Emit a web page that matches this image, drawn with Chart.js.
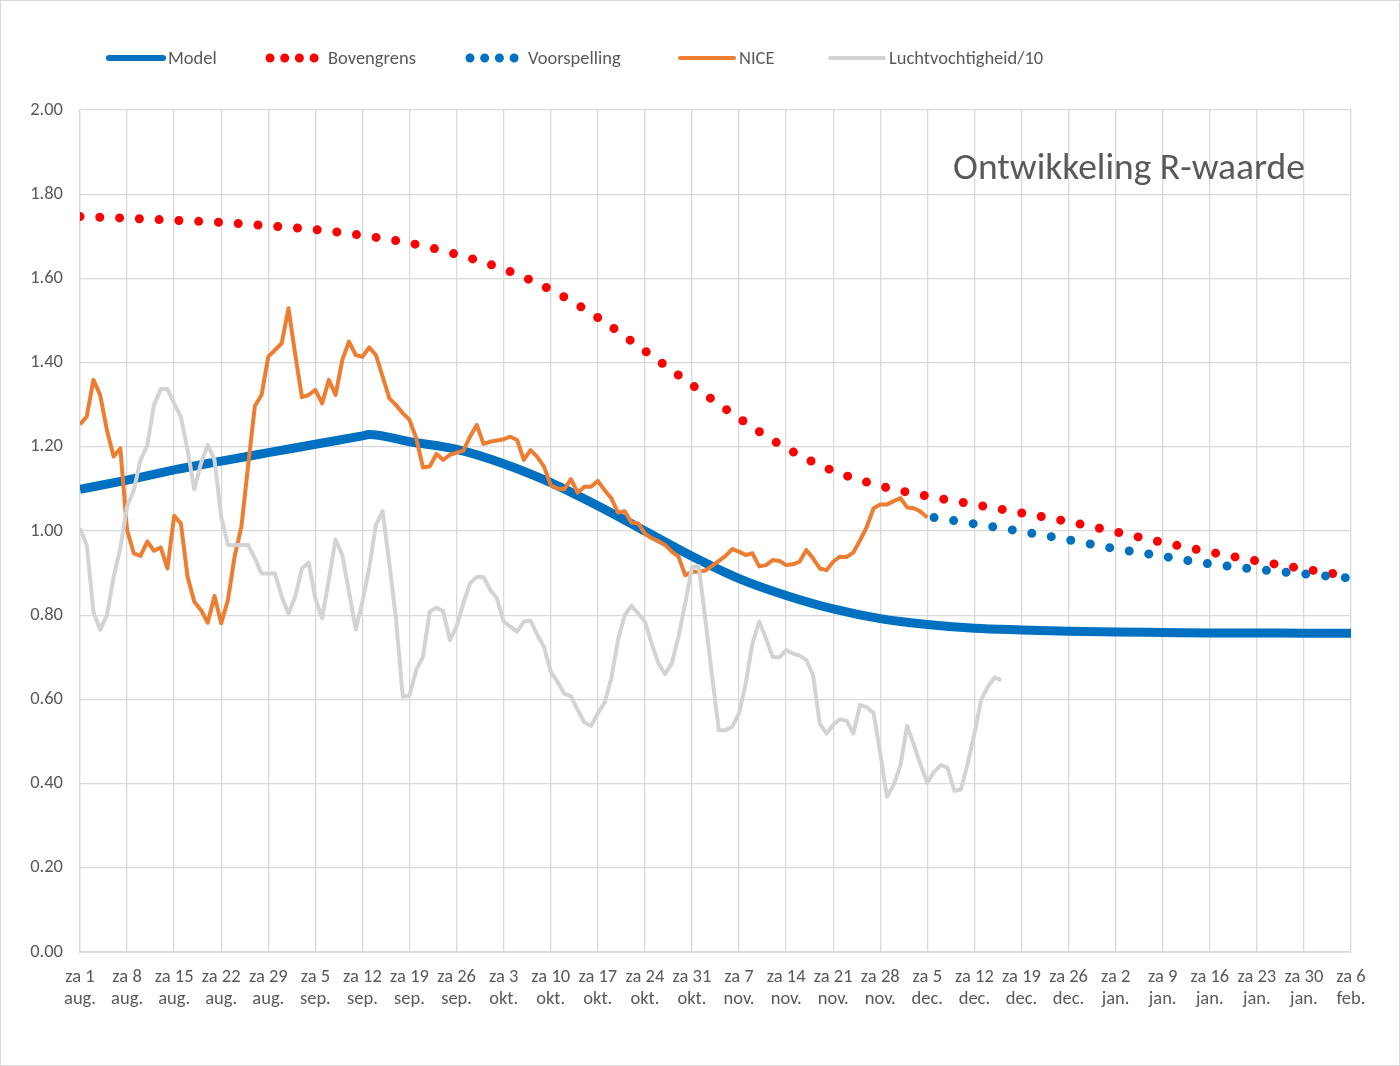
<!DOCTYPE html>
<html lang="nl">
<head>
<meta charset="utf-8">
<title>Ontwikkeling R-waarde</title>
<script src="https://cdn.jsdelivr.net/npm/chart.js@4.4.1/dist/chart.umd.min.js"></script>
<style>
    html, body { margin: 0; padding: 0; background: #fff; }
    #chart { display: block; }
</style>
</head>
<body>
<canvas id="chart" width="1400" height="1066"></canvas>
<script>
// Tick labels, one per week (za = zaterdag), day 0 = za 1 aug.
const tickLabels = [
    ['za 1', 'aug.'], ['za 8', 'aug.'], ['za 15', 'aug.'], ['za 22', 'aug.'], ['za 29', 'aug.'],
    ['za 5', 'sep.'], ['za 12', 'sep.'], ['za 19', 'sep.'], ['za 26', 'sep.'],
    ['za 3', 'okt.'], ['za 10', 'okt.'], ['za 17', 'okt.'], ['za 24', 'okt.'], ['za 31', 'okt.'],
    ['za 7', 'nov.'], ['za 14', 'nov.'], ['za 21', 'nov.'], ['za 28', 'nov.'],
    ['za 5', 'dec.'], ['za 12', 'dec.'], ['za 19', 'dec.'], ['za 26', 'dec.'],
    ['za 2', 'jan.'], ['za 9', 'jan.'], ['za 16', 'jan.'], ['za 23', 'jan.'], ['za 30', 'jan.'],
    ['za 6', 'feb.']
];

const seriesNames = ['Model', 'Bovengrens', 'Voorspelling', 'NICE', 'Luchtvochtigheid/10'];

// Model (smooth curve, read at these days)
const modelDays = [0, 7, 14, 21, 28, 35, 42, 43, 49, 56, 63, 70, 77, 84, 91, 98, 105, 112, 119, 126, 133, 140, 147, 154, 161, 168, 175, 182, 189];
const modelValues = [1.099, 1.121, 1.145, 1.166, 1.186, 1.206, 1.226, 1.229, 1.212, 1.194, 1.160, 1.115, 1.060, 1.000, 0.940, 0.887, 0.847, 0.815, 0.792, 0.778, 0.769, 0.765, 0.762, 0.760, 0.759, 0.758, 0.758, 0.757, 0.757];

// Bovengrens (upper bound)
const upperDays = [0, 7, 14, 21, 28, 35, 42, 49, 56, 63, 70, 77, 84, 91, 98, 105, 112, 119, 126, 133, 140, 147, 154, 161, 168, 175, 182, 189];
const upperValues = [1.747, 1.743, 1.738, 1.733, 1.725, 1.716, 1.702, 1.684, 1.657, 1.622, 1.573, 1.507, 1.428, 1.347, 1.268, 1.197, 1.143, 1.107, 1.083, 1.063, 1.043, 1.022, 0.998, 0.973, 0.950, 0.929, 0.910, 0.892];

// Voorspelling (forecast)
const forecastDays = [127, 133, 140, 147, 154, 161, 168, 175, 182, 189];
const forecastValues = [1.032, 1.017, 0.999, 0.979, 0.958, 0.940, 0.922, 0.909, 0.898, 0.888];

// NICE, daily from za 1 aug.
const niceValues = [
    1.253, 1.272, 1.359, 1.323, 1.240, 1.177, 1.196, 1.002, 0.947, 0.941,
    0.975, 0.953, 0.961, 0.911, 1.036, 1.018, 0.891, 0.832, 0.812, 0.782,
    0.846, 0.781, 0.836, 0.940, 1.010, 1.155, 1.297, 1.323, 1.414, 1.430,
    1.446, 1.529, 1.420, 1.318, 1.323, 1.335, 1.303, 1.359, 1.323, 1.406,
    1.450, 1.418, 1.414, 1.436, 1.418, 1.367, 1.315, 1.299, 1.280, 1.264,
    1.220, 1.151, 1.153, 1.183, 1.169, 1.181, 1.186, 1.191, 1.224, 1.252,
    1.207, 1.212, 1.215, 1.218, 1.224, 1.216, 1.169, 1.192, 1.176, 1.153,
    1.109, 1.101, 1.099, 1.123, 1.091, 1.105, 1.105, 1.119, 1.097, 1.078,
    1.044, 1.047, 1.020, 1.018, 0.994, 0.983, 0.976, 0.967, 0.951, 0.939,
    0.895, 0.903, 0.903, 0.906, 0.917, 0.929, 0.941, 0.957, 0.951, 0.943,
    0.947, 0.916, 0.919, 0.931, 0.929, 0.919, 0.921, 0.927, 0.955, 0.935,
    0.911, 0.907, 0.927, 0.939, 0.938, 0.949, 0.978, 1.010, 1.054, 1.063,
    1.063, 1.071, 1.078, 1.056, 1.054, 1.046, 1.032
];

// Luchtvochtigheid / 10, daily from za 1 aug.
const humidityValues = [
    1.006, 0.967, 0.808, 0.765, 0.800, 0.891, 0.959, 1.058, 1.097, 1.169,
    1.204, 1.299, 1.337, 1.337, 1.303, 1.271, 1.192, 1.099, 1.161, 1.204,
    1.169, 1.034, 0.967, 0.967, 0.967, 0.967, 0.935, 0.899, 0.899, 0.899,
    0.844, 0.804, 0.844, 0.911, 0.925, 0.840, 0.793, 0.884, 0.980, 0.943,
    0.856, 0.766, 0.832, 0.911, 1.014, 1.047, 0.923, 0.789, 0.606, 0.610,
    0.670, 0.701, 0.808, 0.818, 0.810, 0.741, 0.773, 0.828, 0.876, 0.891,
    0.891, 0.860, 0.840, 0.785, 0.773, 0.761, 0.785, 0.787, 0.753, 0.725,
    0.666, 0.642, 0.614, 0.608, 0.575, 0.545, 0.537, 0.567, 0.592, 0.650,
    0.741, 0.800, 0.822, 0.804, 0.785, 0.733, 0.686, 0.660, 0.686, 0.749,
    0.828, 0.914, 0.917, 0.789, 0.654, 0.527, 0.527, 0.535, 0.567, 0.638,
    0.733, 0.785, 0.745, 0.701, 0.700, 0.717, 0.709, 0.704, 0.694, 0.658,
    0.543, 0.519, 0.539, 0.553, 0.549, 0.519, 0.587, 0.581, 0.568, 0.472,
    0.369, 0.397, 0.444, 0.537, 0.492, 0.444, 0.402, 0.428, 0.444, 0.438,
    0.383, 0.386, 0.448, 0.519, 0.599, 0.630, 0.652, 0.646
];

const chartTitle = 'Ontwikkeling R-waarde';

// Look & feel
const fontFamily = "Carlito, Calibri, Lato, sans-serif";
const textColor = '#595959';
const gridColor = '#d9d9d9';
const legendKeyX = [106, 266, 466, 677, 827];

// Pair x (day) and y values for the linear x axis
const toPoints = (days, values) => values.map((v, i) => ({ x: days[i], y: v }));
const dailyPoints = (values) => values.map((v, i) => ({ x: i, y: v }));

// White background, frame, title and the legend drawn on the canvas
const overlayPlugin = {
    id: 'overlay',
    beforeDraw: (chart) => {
        const ctx = chart.ctx;
        ctx.save();
        ctx.fillStyle = '#fff';
        ctx.fillRect(0, 0, chart.width, chart.height);
        ctx.restore();
    },
    afterDraw: (chart) => {
        const ctx = chart.ctx;
        ctx.save();

        // outer frame
        ctx.strokeStyle = gridColor;
        ctx.lineWidth = 1;
        ctx.strokeRect(0.5, 0.5, chart.width - 1, chart.height - 1);

        // title inside the plot area
        ctx.fillStyle = textColor;
        ctx.font = `37.5px ${fontFamily}`;
        ctx.textAlign = 'center';
        ctx.textBaseline = 'middle';
        ctx.fillText(chartTitle, 1129, 170);

        // legend
        ctx.font = `18.5px ${fontFamily}`;
        ctx.textAlign = 'left';
        const ky = 58;
        chart.data.datasets.forEach((ds, i) => {
            const kx = legendKeyX[i];
            ctx.save();
            ctx.strokeStyle = ds.borderColor;
            ctx.lineCap = 'round';
            ctx.beginPath();
            if (ds.borderDash && ds.borderDash.length) {
                ctx.lineWidth = ds.borderWidth;
                ctx.setLineDash([0, 14.7]);
                ctx.moveTo(kx + 4, ky);
                ctx.lineTo(kx + 50, ky);
            } else {
                ctx.lineWidth = Math.min(ds.borderWidth, 6);
                ctx.moveTo(kx + 3, ky);
                ctx.lineTo(kx + 57, ky);
            }
            ctx.stroke();
            ctx.restore();
            ctx.fillStyle = textColor;
            ctx.fillText(ds.label, kx + 62, ky + 1);
        });

        ctx.restore();
    }
};

const ctx = document.getElementById('chart').getContext('2d');
const rChart = new Chart(ctx, {
    type: 'line',
    data: {
        datasets: [
            {
                label: seriesNames[0],
                data: toPoints(modelDays, modelValues),
                borderColor: '#0070c0',
                borderWidth: 9,
                cubicInterpolationMode: 'monotone',
                pointRadius: 0,
                order: 5
            },
            {
                label: seriesNames[1],
                data: toPoints(upperDays, upperValues),
                borderColor: '#ff0000',
                borderWidth: 9,
                borderDash: [0, 19.8],
                borderCapStyle: 'round',
                cubicInterpolationMode: 'monotone',
                pointRadius: 0,
                order: 4
            },
            {
                label: seriesNames[2],
                data: toPoints(forecastDays, forecastValues),
                borderColor: '#0070c0',
                borderWidth: 9,
                borderDash: [0, 19.8],
                borderCapStyle: 'round',
                cubicInterpolationMode: 'monotone',
                pointRadius: 0,
                order: 3
            },
            {
                label: seriesNames[3],
                data: dailyPoints(niceValues),
                borderColor: '#ed7d31',
                borderWidth: 4,
                tension: 0,
                borderJoinStyle: 'round',
                pointRadius: 0,
                order: 2
            },
            {
                label: seriesNames[4],
                data: dailyPoints(humidityValues),
                borderColor: '#d3d3d3',
                borderWidth: 4,
                tension: 0,
                borderJoinStyle: 'round',
                pointRadius: 0,
                order: 1
            }
        ]
    },
    options: {
        responsive: false,
        animation: false,
        devicePixelRatio: 1,
        events: [],
        layout: {
            padding: { top: 110, right: 49, left: 0, bottom: 0 }
        },
        plugins: {
            legend: { display: false },
            tooltip: { enabled: false },
            title: { display: false }
        },
        scales: {
            x: {
                type: 'linear',
                min: 0,
                max: 189,
                afterFit: (scale) => { scale.height = 114; },
                grid: { color: gridColor, lineWidth: 1.3, drawTicks: false },
                border: { color: gridColor, width: 1.8 },
                ticks: {
                    stepSize: 7,
                    autoSkip: false,
                    maxRotation: 0,
                    padding: 14,
                    color: textColor,
                    font: { family: fontFamily, size: 18.5, lineHeight: 1.2 },
                    callback: (value, index) => tickLabels[index]
                }
            },
            y: {
                min: 0,
                max: 2,
                afterFit: (scale) => { scale.width = 80; },
                grid: { color: gridColor, lineWidth: 1.3, drawTicks: false },
                border: { color: gridColor, width: 1.3 },
                ticks: {
                    stepSize: 0.2,
                    padding: 17,
                    color: textColor,
                    font: { family: fontFamily, size: 18.5 },
                    callback: (value) => value.toFixed(2)
                }
            }
        }
    },
    plugins: [overlayPlugin]
});
</script>
</body>
</html>
